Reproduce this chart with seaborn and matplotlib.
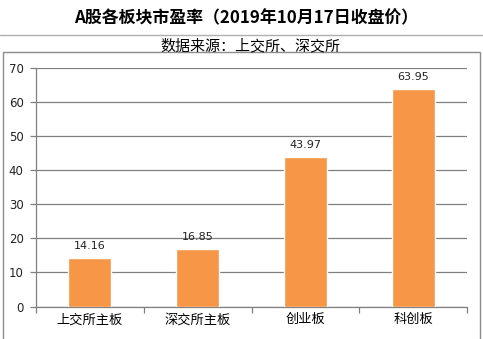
import matplotlib
matplotlib.use("Agg")
import matplotlib.pyplot as plt
import seaborn as sns
import pandas as pd
from matplotlib.patches import Rectangle
from matplotlib.lines import Line2D

categories = ["上交所主板", "深交所主板", "创业板", "科创板"]
values = [14.16, 16.85, 43.97, 63.95]
value_labels = ["14.16", "16.85", "43.97", "63.95"]
yticks = [0, 10, 20, 30, 40, 50, 60, 70]

title = "A股各板块市盈率（2019年10月17日收盘价）"
subtitle = "数据来源：上交所、深交所"

sns.set_theme(style="white")
plt.rcParams['font.family'] = ['Noto Sans CJK SC', 'DejaVu Sans']

W, H = 483, 339
fig = plt.figure(figsize=(W / 100, H / 100), dpi=100)
fig.patch.set_facecolor("white")

def fx(px):
    return px / W

def fy(py):
    return 1 - py / H

# outer box
fig.patches.append(Rectangle((fx(3), fy(345)), fx(480) - fx(3), fy(52) - fy(345),
                             transform=fig.transFigure, fill=False,
                             edgecolor="#8c8c8c", linewidth=1.0))
# separator line
fig.lines.append(Line2D([0, 1], [fy(35), fy(35)], transform=fig.transFigure,
                        color="#b0b0b0", linewidth=1.0))

fig.text(fx(246), fy(18), title, ha="center", va="center",
         fontsize=12.2, fontweight="bold", color="black")
fig.text(fx(250), fy(46), subtitle, ha="center", va="center",
         fontsize=10.8, fontweight="light", color="black")

left, right, top, bottom = 36, 467, 68, 306.5
ax = fig.add_axes([fx(left), fy(bottom), fx(right) - fx(left), fy(top) - fy(bottom)])

df = pd.DataFrame({"cat": categories, "val": values})
sns.barplot(data=df, x="cat", y="val", color="#F79646", saturation=1,
            width=0.4, ax=ax, zorder=3)

ax.set_ylim(0, 70)
ax.set_xlim(-0.5, 3.5)
ax.set_yticks(yticks)
ax.set_yticklabels([str(t) for t in yticks], fontsize=8.5,
                   family=['DejaVu Sans'], color="#222222")
ax.set_xlabel("")
ax.set_ylabel("")
ax.yaxis.grid(True, color="#808080", linewidth=0.9, zorder=0)
ax.set_axisbelow(True)

for s in ["top", "right"]:
    ax.spines[s].set_visible(False)
for s in ["left", "bottom"]:
    ax.spines[s].set_color("#808080")
    ax.spines[s].set_linewidth(0.9)

ax.tick_params(axis="y", which="major", length=4, width=0.9, color="#808080",
               direction="out", pad=5, left=True)
ax.tick_params(axis="x", which="major", length=0, pad=5, labelsize=9.5,
               labelcolor="black")
ax.set_xticks([-0.5, 0.5, 1.5, 2.5, 3.5], minor=True)
ax.tick_params(axis="x", which="minor", length=4, width=0.9, color="#808080",
               direction="out", bottom=True)

for i, (v, lab) in enumerate(zip(values, value_labels)):
    ax.annotate(lab, (i, v), xytext=(0, 5), textcoords="offset points",
                ha="center", va="bottom", fontsize=8,
                family=['DejaVu Sans'], color="#222222")

fig.savefig("out.png", dpi=100)
